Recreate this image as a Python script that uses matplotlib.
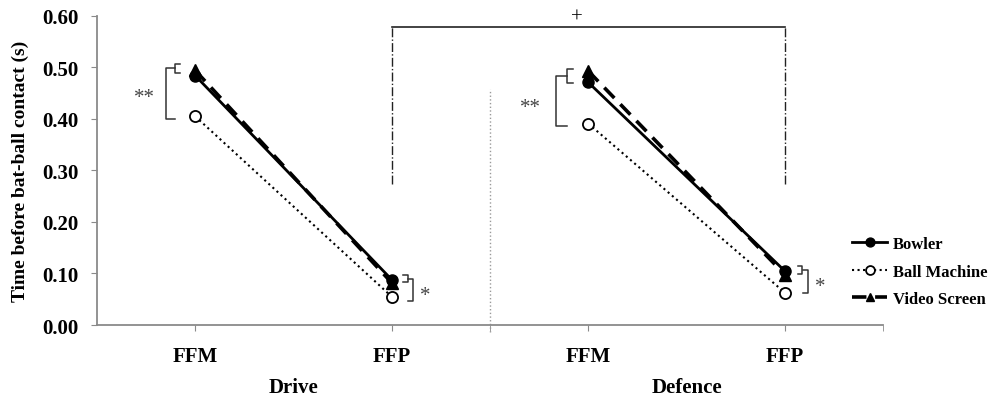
import numpy as np
import matplotlib.pyplot as plt
from matplotlib.transforms import blended_transform_factory

plt.rcParams['font.family'] = ['Liberation Serif', 'DejaVu Serif']
plt.rcParams['font.weight'] = 'bold'

phases = ['FFM', 'FFP']
groups = ['Drive', 'Defence']
conditions = ['Bowler', 'Ball Machine', 'Video Screen']

drive_bowler = [0.484, 0.088]
drive_machine = [0.405, 0.055]
drive_video = [0.494, 0.082]
defence_bowler = [0.471, 0.105]
defence_machine = [0.391, 0.063]
defence_video = [0.493, 0.098]

fig = plt.figure(figsize=(10, 4.02), dpi=100)
ax = fig.add_axes([0.097, 0.189, 0.786, 0.769])

styles = {
    'Bowler': dict(color='black', ls='-', lw=2.0, marker='o', ms=8, mfc='black', mec='black'),
    'Ball Machine': dict(color='black', ls=':', lw=1.5, marker='o', ms=8, mfc='white', mec='black', mew=1.3),
    'Video Screen': dict(color='black', ls=(0, (4, 2.4)), lw=2.6, marker='^', ms=8, mfc='black', mec='black'),
}

xd = np.array([0.5, 1.5])
xf = np.array([2.5, 3.5])
series = {
    'Bowler': (drive_bowler, defence_bowler),
    'Ball Machine': (drive_machine, defence_machine),
    'Video Screen': (drive_video, defence_video),
}
handles = []
for name in ['Video Screen', 'Ball Machine', 'Bowler']:
    d, f = series[name]
    h, = ax.plot(xd, d, label=name, **styles[name], zorder=3)
    ax.plot(xf, f, **styles[name], zorder=3)
    handles.append(h)
handles = handles[::-1]

ax.set_xlim(0, 4)
ax.set_ylim(0, 0.6)
ax.set_yticks(np.arange(0, 0.61, 0.1))
ax.set_yticklabels(['%.2f' % v for v in np.arange(0, 0.61, 0.1)])
ax.set_xticks([0.5, 1.5, 2.5, 3.5])
ax.set_xticklabels(phases * 2)
ax.set_xticks([2, 4], minor=True)
for s in ['top', 'right']:
    ax.spines[s].set_visible(False)
for s in ['left', 'bottom']:
    ax.spines[s].set_color('#8a8a8a')
    ax.spines[s].set_linewidth(1.3)
ax.tick_params(axis='y', which='major', length=4, color='#8a8a8a', pad=9, labelsize=15)
ax.tick_params(axis='x', which='both', length=4, color='#8a8a8a', pad=11, labelsize=15)
ax.set_ylabel('Time before bat-ball contact (s)', fontsize=14, fontweight='bold', labelpad=10)

trans = blended_transform_factory(ax.transData, ax.transAxes)
ax.text(1.0, -0.2, groups[0], transform=trans, ha='center', va='center', fontsize=15, fontweight='bold')
ax.text(3.0, -0.2, groups[1], transform=trans, ha='center', va='center', fontsize=15, fontweight='bold')

# separator
ax.plot([2, 2], [-0.014, 0.458], color='#9a9a9a', ls=':', lw=1.0, clip_on=False)

k = dict(color='#333333', lw=1.1, clip_on=False)

def bracket_left(x, y0, y1, w):
    ax.plot([x + w, x, x, x + w], [y1, y1, y0, y0], **k)

def bracket_right(x, y0, y1, w):
    ax.plot([x - w, x, x, x - w], [y1, y1, y0, y0], **k)

star = dict(ha='center', va='center', fontsize=15, color='#444444', fontweight='normal')
# Drive FFM
bracket_left(0.397, 0.489, 0.507, 0.025)
bracket_left(0.351, 0.400, 0.498, 0.046)
ax.text(0.244, 0.442, '**', **star)
# Drive FFP
bracket_right(1.583, 0.0835, 0.097, 0.025)
bracket_right(1.608, 0.047, 0.090, 0.025)
ax.text(1.669, 0.058, '*', **star)
# Defence FFM
bracket_left(2.390, 0.470, 0.496, 0.031)
bracket_left(2.336, 0.386, 0.483, 0.054)
ax.text(2.204, 0.422, '**', **star)
# Defence FFP
bracket_right(3.588, 0.099, 0.114, 0.021)
bracket_right(3.620, 0.0615, 0.107, 0.029)
ax.text(3.679, 0.075, '*', **star)

# top comparison
ax.plot([1.5, 3.5], [0.579, 0.579], color='#222222', lw=1.2, clip_on=False)
ax.plot([1.5, 1.5], [0.274, 0.579], color='#222222', lw=1.0, ls='-.', clip_on=False)
ax.plot([3.5, 3.5], [0.274, 0.579], color='#222222', lw=1.0, ls='-.', clip_on=False)
ax.text(2.44, 0.597, '+', ha='center', va='center', fontsize=15, fontweight='normal')

fig.legend(handles, conditions, loc='center left', bbox_to_anchor=(0.852, 0.322),
           frameon=False, handlelength=2.1, handletextpad=0.35, markerscale=0.8,
           labelspacing=0.7, borderpad=0, borderaxespad=0, prop={'weight': 'bold', 'size': 12})

fig.savefig('out.png', dpi=100)
